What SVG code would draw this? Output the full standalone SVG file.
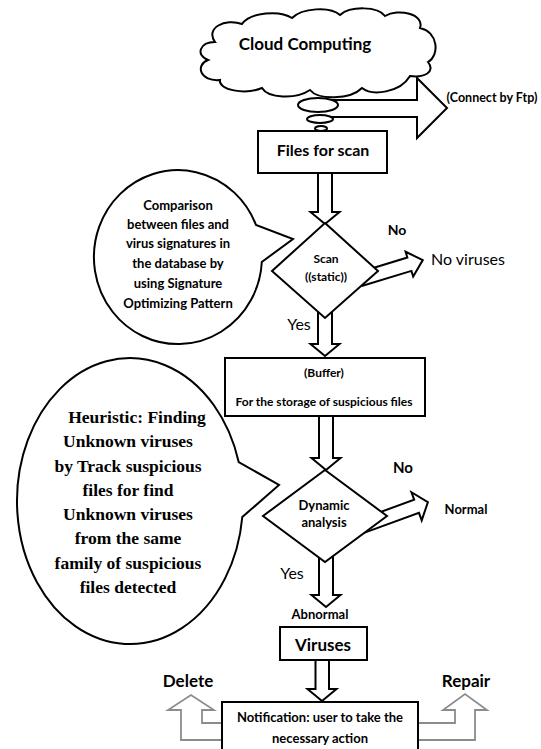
<svg xmlns="http://www.w3.org/2000/svg" width="541" height="749" viewBox="0 0 541 749">
<style>
.ln{fill:#fff;stroke:#000;stroke-width:2;stroke-linejoin:miter}
.ga{fill:#fff;stroke:#8c8c8c;stroke-width:1.8;stroke-linejoin:miter}
.t{font-family:Lato,"Liberation Sans",sans-serif;font-weight:bold;fill:#000;text-anchor:middle}
.r{font-family:Lato,"Liberation Sans",sans-serif;font-weight:normal;fill:#000;text-anchor:middle}
.s{font-family:"Liberation Serif","Times New Roman",serif;font-weight:bold;fill:#000;text-anchor:middle;font-size:17.5px}
</style>
<rect width="541" height="749" fill="#fff"/>
<g id="connectors">
  <path class="ln" d="M320,100 H417 V78 L447,108 L417,138 V117 H320"/>
  <path class="ln" d="M318,170 V212 H310.5 L325,224 L339.5,212 H332 V170"/>
  <path class="ln" d="M318,305 V344 H310.5 L325,356 L339.5,344 H332 V305"/>
  <path class="ln" d="M319,414 V458 H311.5 L326,470 L340.5,458 H333 V414"/>
  <path class="ln" d="M319,552 V595 H311.5 L326,607 L340.5,595 H333 V552"/>
  <path class="ln" d="M315.5,658 V689 H307.5 L322,701 L336.5,689 H329 V658"/>
  <path class="ln" transform="translate(374,275) rotate(-17)" d="M-15,-7 H37 V-13 L51,0 L37,13 V7 H-15"/>
  <path class="ln" transform="translate(379,520) rotate(-20)" d="M-20,-7 H40 V-15 L52,0 L40,15 V7 H-20"/>
  <path class="ga" d="M226,740 H181 V710 H168 L191,695 L214,710 H202 V723 H226"/>
  <path class="ga" d="M414,723 H455 V710 H443 L465,694 L487,710 H475 V740 H414"/>
</g>
<g id="cloud">
  <path class="ln" d="M215,42 C205,28 225,18 242,24 C250,12 280,10 292,18 C302,8 330,6 340,15 C350,6 378,6 385,16 C398,8 425,14 420,28 C438,32 440,55 428,62 C436,72 424,78 410,76 C400,93 372,96 362,88 C350,100 318,100 310,90 C295,100 268,98 262,88 C245,95 218,90 220,80 C200,82 195,65 208,60 C195,55 200,42 215,42 Z"/>
  <text class="t" x="305" y="50" font-size="17">Cloud Computing</text>
  <ellipse class="ln" cx="318" cy="105" rx="20" ry="7"/>
  <ellipse class="ln" cx="320" cy="119" rx="13" ry="4"/>
  <ellipse class="ln" cx="321" cy="128.5" rx="6" ry="2.5"/>
</g>
<g id="ftp-label">
  <text class="t" x="492" y="102" font-size="12.5">(Connect by Ftp)</text>
</g>
<g id="files">
  <rect class="ln" x="258" y="131" width="129" height="42"/>
  <text class="t" x="323" y="156" font-size="16">Files for scan</text>
</g>
<g id="bubble1">
  <path class="ln" d="M256,225 A84,87 0 1 0 261.8,262 L293,239 Z"/>
  <text class="t" font-size="13"><tspan x="178" y="209.5">Comparison</tspan><tspan x="178" y="228.5">between files and</tspan><tspan x="178" y="247.5">virus signatures in</tspan><tspan x="178" y="267.5">the database by</tspan><tspan x="178" y="287.5">using Signature</tspan><tspan x="178" y="307.5">Optimizing Pattern</tspan></text>
</g>
<g id="scan">
  <path class="ln" d="M325,223 L378,271 L325,318 L272,271 Z"/>
  <text class="t" x="326" y="263" font-size="12">Scan</text>
  <text class="t" x="326" y="281" font-size="12">((static))</text>
</g>
<g id="no-viruses">
  <text class="t" x="397" y="235" font-size="14">No</text>
  <text class="r" x="468" y="265" font-size="16">No viruses</text>
</g>
<g id="yes1"><text class="r" x="299" y="330" font-size="16">Yes</text></g>
<g id="buffer">
  <rect class="ln" x="225" y="358" width="200" height="58"/>
  <text class="t" x="324" y="377" font-size="12">(Buffer)</text>
  <text class="t" x="324" y="406" font-size="12">For the storage of suspicious files</text>
</g>
<g id="bubble2">
  <path class="ln" d="M238.7,462 A113,143 0 1 0 242.3,517 L279,485 Z"/>
  <text class="s"><tspan x="137" y="422.5">Heuristic: Finding</tspan><tspan x="128" y="446.5">Unknown viruses</tspan><tspan x="128" y="471.5">by Track suspicious</tspan><tspan x="128" y="495.5">files for find</tspan><tspan x="128" y="519.5">Unknown viruses</tspan><tspan x="128" y="543.5">from the same</tspan><tspan x="128" y="568.5">family of suspicious</tspan><tspan x="128" y="592.5">files detected</tspan></text>
</g>
<g id="dynamic">
  <path class="ln" d="M325,470 L387,516 L325,562 L263,516 Z"/>
  <text class="t" x="324" y="509.5" font-size="13">Dynamic</text>
  <text class="t" x="324" y="526.5" font-size="13">analysis</text>
</g>
<g id="normal">
  <text class="t" x="403" y="473" font-size="15">No</text>
  <text class="t" x="466" y="513.5" font-size="13">Normal</text>
</g>
<g id="yes2"><text class="r" x="292" y="578.5" font-size="16">Yes</text></g>
<g id="abnormal"><text class="t" x="320" y="618.5" font-size="13">Abnormal</text></g>
<g id="viruses">
  <rect class="ln" x="280" y="627" width="87" height="33"/>
  <text class="t" x="323" y="651" font-size="17">Viruses</text>
</g>
<g id="notification">
  <rect class="ln" x="222" y="702" width="196" height="60"/>
  <text class="t" x="320" y="721.5" font-size="13">Notification: user to take the</text>
  <text class="t" x="320" y="742.5" font-size="13">necessary action</text>
</g>
<g id="delete"><text class="t" x="188" y="687" font-size="17">Delete</text></g>
<g id="repair"><text class="t" x="466" y="687" font-size="17">Repair</text></g>
</svg>
